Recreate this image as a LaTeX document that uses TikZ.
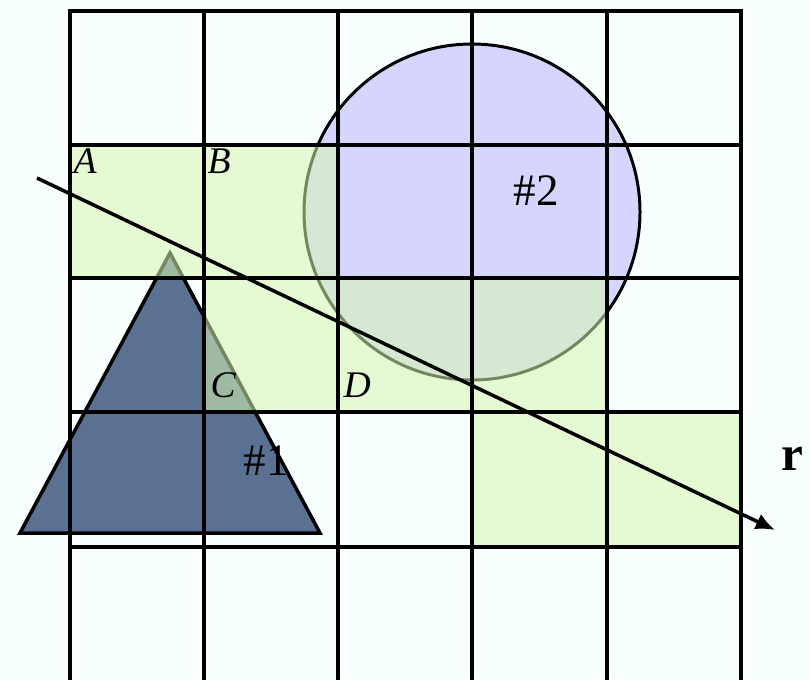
\documentclass[tikz,border=0pt]{standalone}
\usepackage{fontspec}
\setmainfont{Liberation Serif}
\usetikzlibrary{arrows.meta}
\definecolor{bgcyan}{RGB}{248,255,255}
\definecolor{cellgreen}{RGB}{215,247,176}
\definecolor{discblue}{RGB}{213,213,255}
\definecolor{slateblue}{RGB}{91,113,146}

\begin{document}
\begin{tikzpicture}[x=0.01cm,y=-0.01cm,
    gridline/.style={line width=1.05pt,line cap=rect},
    cell/.style={fill=cellgreen,fill opacity=0.55},
    corner/.style={font=\fontsize{10.7}{12}\selectfont\itshape,anchor=base west,inner sep=0pt},
    tag/.style={font=\fontsize{12.8}{15}\selectfont,anchor=base west,inner sep=0pt}]
    \useasboundingbox (0,0) rectangle (810,679);
    \fill[bgcyan] (0,0) rectangle (810,679);

    % shapes under the cells
    \filldraw[fill=discblue,line width=0.85pt] (472,212) circle[radius=168];
    \filldraw[fill=slateblue,line width=1pt] (170,253) -- (320,533) -- (20,533) -- cycle;

    % marked cells
    \fill[cell] (70,145) rectangle (338,278);
    \fill[cell] (204,278) rectangle (607,412);
    \fill[cell] (472,412) rectangle (741,547);

    % grid
    \foreach \x in {70,204,338,472,607,741}
        \draw[gridline] (\x,11) -- (\x,679);
    \foreach \y in {11,145,278,412,547}
        \draw[gridline] (70,\y) -- (741,\y);

    % ray
    \coordinate (rstart) at (37,178);
    \coordinate (rend) at (775,530);
    \draw[line width=1pt,-{Latex[length=5.5pt,width=4.8pt]}] (rstart) -- (rend);

    \node[corner] (A) at (73,173) {A};
    \node[corner] (B) at (207,173) {B};
    \node[corner] (C) at (210,397) {C};
    \node[corner] (D) at (343,397) {D};
    \node[tag] (t1) at (243,475) {\#1};
    \node[tag] (t2) at (513,205) {\#2};
    \node[tag,font=\fontsize{14}{16}\selectfont\bfseries] (r) at (781,470) {r};
\end{tikzpicture}
\end{document}
